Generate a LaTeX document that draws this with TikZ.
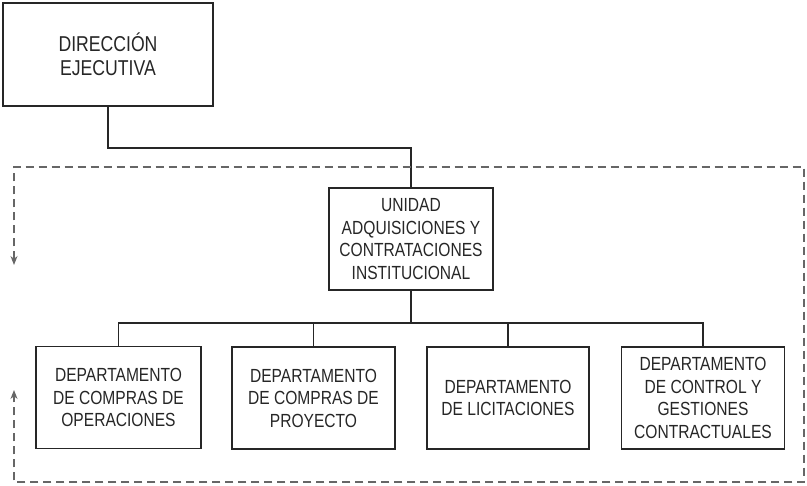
\documentclass[tikz,border=0pt]{standalone}
\usepackage{fontspec}
\setmainfont[FakeStretch=0.82]{Liberation Sans}
\usetikzlibrary{arrows.meta}
\tikzset{
  box/.style={draw=black!85, line width=1.6pt, rectangle, align=center, inner sep=2pt,
    font=\fontsize{19}{22.5}\selectfont, text=black!85},
  conn/.style={draw=black!85, line width=1.4pt},
  frame/.style={draw=black!60, line width=1.2pt, dash pattern=on 8pt off 5pt,
    {Stealth[length=9pt,width=7pt]}-{Stealth[length=9pt,width=7pt]}}
}
\begin{document}
\begin{tikzpicture}[x=1pt,y=-1pt]
\useasboundingbox (0,0) rectangle (807,486);
\node[box, minimum width=210pt, minimum height=103pt, font=\fontsize{21.5}{24.5}\selectfont] (dir) at (108,54.5) {DIRECCIÓN\\EJECUTIVA};
\node[box, minimum width=164pt, minimum height=102pt] (uni) at (411,239) {UNIDAD\\ADQUISICIONES Y\\CONTRATACIONES\\INSTITUCIONAL};
\node[box, minimum width=165pt, minimum height=102pt] (d1) at (118.5,397.5) {DEPARTAMENTO\\DE COMPRAS DE\\OPERACIONES};
\node[box, minimum width=163pt, minimum height=102pt] (d2) at (313.5,398) {DEPARTAMENTO\\DE COMPRAS DE\\PROYECTO};
\node[box, minimum width=162pt, minimum height=102pt] (d3) at (508,398) {DEPARTAMENTO\\DE LICITACIONES};
\node[box, minimum width=163pt, minimum height=102pt] (d4) at (703,398) {DEPARTAMENTO\\DE CONTROL Y\\GESTIONES\\CONTRACTUALES};
% connectors
\coordinate (j1) at (108,148);
\coordinate (bus) at (411,323);
\draw[conn] (dir.south) -- (j1) -| (uni.north);
\draw[conn] (uni.south) -- (bus);
\draw[conn] (d1.north) |- (bus) -| (d4.north);
\draw[conn] (d2.north) -- (d2.north |- bus);
\draw[conn] (d3.north) -- (d3.north |- bus);
% dashed frame
\coordinate (fa) at (14,265);
\coordinate (fb) at (804,167);
\coordinate (fc) at (14,482);
\coordinate (fd) at (14,390);
\draw[frame] (fa) |- (fb) |- (fc) -- (fd);
\end{tikzpicture}
\end{document}
